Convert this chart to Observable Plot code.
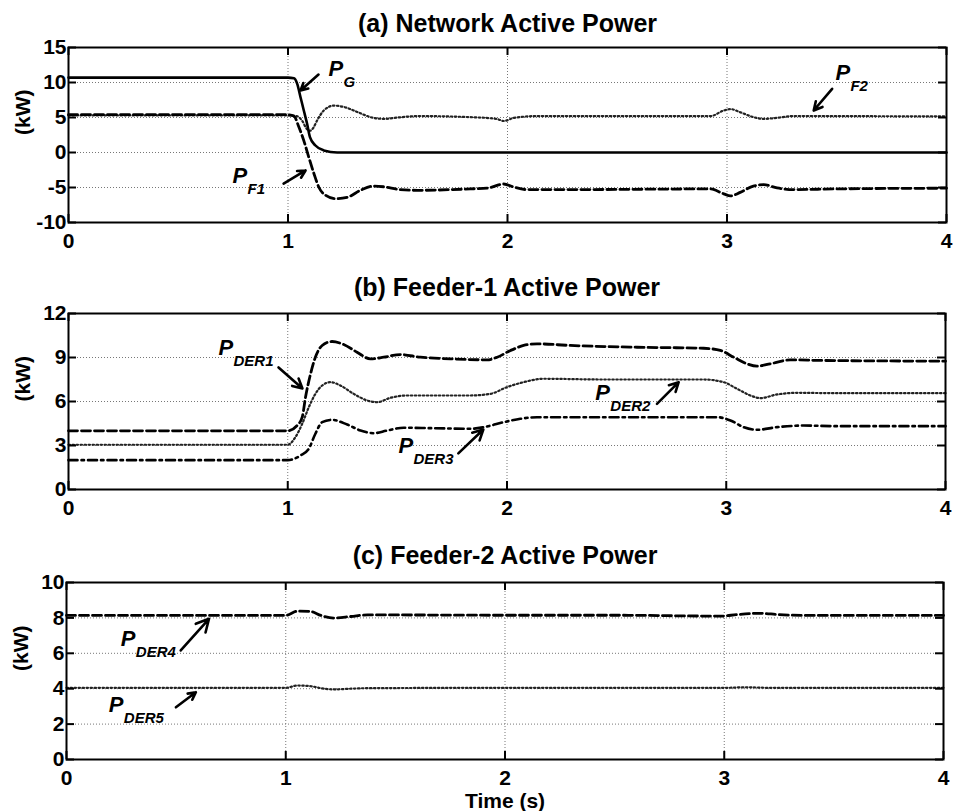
<!DOCTYPE html>
<html><head><meta charset="utf-8">
<script src="https://cdn.jsdelivr.net/npm/d3@7"></script>
<script src="https://cdn.jsdelivr.net/npm/@observablehq/plot@0.6"></script>
<style>body{margin:0;background:#fff;overflow:hidden}#c svg{display:block}</style>
</head><body><div id="c"></div>
<script>
// ---------- data ----------
const xTicks = [0, 1, 2, 3, 4];

// (a) Network Active Power
const yTicksA = [-10, -5, 0, 5, 10, 15];
const tG  = [0, 1.0, 1.027, 1.042, 1.057, 1.072, 1.087, 1.10, 1.125, 1.163, 1.224, 2, 3, 4];
const pG  = [10.7, 10.7, 10.6, 9.8, 7.9, 6.0, 4.1, 2.2, 1.0, 0.3, 0, 0, 0, 0];
const tF1 = [0, 1.0, 1.027, 1.05, 1.072, 1.095, 1.118, 1.141, 1.171, 1.217, 1.27, 1.33, 1.39, 1.437, 1.51, 1.59, 1.83, 1.907, 1.983, 2.03, 2.09, 2.29, 2.925, 2.985, 3.016, 3.06, 3.12, 3.167, 3.228, 3.30, 3.50, 4.0];
const pF1 = [5.4, 5.4, 5.2, 3.6, 1.7, -0.7, -3.0, -5.0, -6.1, -6.6, -6.4, -5.4, -4.8, -4.9, -5.3, -5.4, -5.2, -5.1, -4.5, -4.95, -5.3, -5.3, -5.2, -5.9, -6.2, -5.7, -4.8, -4.6, -5.05, -5.3, -5.2, -5.1];
const tF2 = [0, 1.0, 1.04, 1.065, 1.085, 1.10, 1.115, 1.133, 1.163, 1.209, 1.255, 1.315, 1.376, 1.437, 1.5, 1.6, 1.83, 1.95, 1.983, 2.03, 2.135, 2.925, 2.985, 3.016, 3.06, 3.12, 3.167, 3.228, 3.30, 4.0];
const pF2 = [5.3, 5.3, 5.2, 4.5, 3.4, 3.1, 3.5, 4.6, 6.0, 6.7, 6.5, 5.8, 5.05, 4.8, 5.0, 5.2, 5.05, 4.8, 4.5, 4.95, 5.2, 5.2, 6.0, 6.2, 5.75, 5.05, 4.8, 4.95, 5.2, 5.15];

// (b) Feeder-1 Active Power
const yTicksB = [0, 3, 6, 9, 12];
const tD1 = [0, 1.0, 1.043, 1.066, 1.081, 1.104, 1.126, 1.157, 1.202, 1.255, 1.316, 1.377, 1.438, 1.514, 1.605, 1.742, 1.909, 1.955, 2.016, 2.076, 2.137, 2.289, 2.593, 2.897, 2.973, 3.034, 3.095, 3.14, 3.201, 3.292, 3.43, 4.0];
const pD1 = [4.0, 4.0, 4.37, 4.93, 6.29, 7.88, 9.02, 9.82, 10.09, 9.89, 9.36, 8.91, 9.02, 9.2, 9.02, 8.91, 8.84, 9.02, 9.48, 9.82, 9.93, 9.82, 9.7, 9.63, 9.48, 9.02, 8.57, 8.41, 8.57, 8.84, 8.8, 8.75];
const tD2 = [0, 1.0, 1.035, 1.066, 1.096, 1.126, 1.157, 1.195, 1.24, 1.301, 1.362, 1.408, 1.468, 1.545, 1.666, 1.833, 1.924, 2.0, 2.076, 2.167, 2.441, 2.897, 2.988, 3.049, 3.11, 3.155, 3.232, 3.323, 3.505, 4.0];
const pD2 = [3.05, 3.05, 3.57, 4.48, 5.61, 6.52, 7.09, 7.32, 7.09, 6.52, 6.07, 5.95, 6.25, 6.41, 6.41, 6.41, 6.52, 6.98, 7.32, 7.55, 7.5, 7.5, 7.32, 6.87, 6.41, 6.23, 6.48, 6.59, 6.57, 6.57];
const tD3 = [0, 1.0, 1.058, 1.096, 1.126, 1.157, 1.202, 1.271, 1.332, 1.392, 1.453, 1.529, 1.666, 1.833, 1.894, 1.985, 2.061, 2.137, 2.593, 2.958, 3.019, 3.079, 3.14, 3.232, 3.353, 3.505, 4.0];
const pD3 = [2.0, 2.0, 2.32, 2.78, 3.8, 4.59, 4.75, 4.43, 4.02, 3.84, 4.02, 4.21, 4.18, 4.14, 4.25, 4.59, 4.82, 4.93, 4.93, 4.93, 4.71, 4.25, 4.07, 4.25, 4.36, 4.32, 4.32];

// (c) Feeder-2 Active Power
const yTicksC = [0, 2, 4, 6, 8, 10];
const tD4 = [0, 1.0, 1.054, 1.114, 1.16, 1.22, 1.297, 1.373, 2.0, 2.5, 2.984, 3.06, 3.167, 3.243, 3.37, 4.0];
const pD4 = [8.14, 8.14, 8.38, 8.36, 8.14, 7.99, 8.08, 8.17, 8.15, 8.15, 8.1, 8.19, 8.26, 8.19, 8.14, 8.14];
const tD5 = [0, 1.0, 1.054, 1.114, 1.16, 1.22, 1.297, 1.373, 2.0, 3.0, 3.1, 3.2, 4.0];
const pD5 = [4.05, 4.05, 4.18, 4.14, 4.03, 3.96, 4.0, 4.03, 4.05, 4.05, 4.08, 4.05, 4.05];

// annotation anchors (data coordinates)
const labelsA = [{t: 1.185, v: 11.0, sub: "G"}, {t: 0.747, v: -4.29, sub: "F1"}, {t: 3.494, v: 10.29, sub: "F2"}];
const arrowsA = [{t1: 1.139, v1: 11.14, t2: 1.057, v2: 8.86}, {t1: 0.98, v1: -4.43, t2: 1.08, v2: -2.57}, {t1: 3.479, v1: 9.1, t2: 3.395, v2: 6.0}];
const labelsB = [{t: 0.684, v: 9.14, sub: "DER1"}, {t: 2.403, v: 6.07, sub: "DER2"}, {t: 1.505, v: 2.46, sub: "DER3"}];
const arrowsB = [{t1: 0.958, v1: 8.32, t2: 1.067, v2: 6.89}, {t1: 2.684, v1: 5.84, t2: 2.783, v2: 7.32}, {t1: 1.778, v1: 2.46, t2: 1.892, v2: 4.09}];
const labelsC = [{t: 0.248, v: 6.44, sub: "DER4"}, {t: 0.193, v: 2.66, sub: "DER5"}];
const arrowsC = [{t1: 0.521, v1: 6.16, t2: 0.65, v2: 7.95}, {t1: 0.499, v1: 2.95, t2: 0.59, v2: 3.8}];

// ---------- styles ----------
const SOLID = {stroke: "black", strokeWidth: 2.6};
const DASH = {stroke: "black", strokeWidth: 2.8, strokeDasharray: "9,4"};
const DOT = {stroke: "#222", strokeWidth: 2.2, strokeDasharray: "1.5,2.5"};
const DASHDOT = {stroke: "black", strokeWidth: 2.6, strokeDasharray: "9,4,2.5,4"};
const FONT = "'Liberation Sans', Arial, Helvetica, sans-serif";

const rows = (t, v) => t.map((d, i) => ({t: d, v: v[i]}));

function panel({height, mT, mB, mL, mR, yDomain, yTicks, title, titleDy, series, labels, arrows, xlabel}) {
  const W = 953 - mL - mR, H = height - mT - mB;
  const marks = [
    Plot.gridX(xTicks.slice(1, -1), {stroke: "#777", strokeOpacity: 1, strokeDasharray: "1,2", strokeWidth: 1}),
    Plot.gridY(yTicks.slice(1, -1), {stroke: "#777", strokeOpacity: 1, strokeDasharray: "1,2", strokeWidth: 1}),
    ...series.map(([t, v, st]) => Plot.line(rows(t, v), {x: "t", y: "v", curve: "monotone-x", ...st})),
    Plot.tickY(yTicks, {y: d => d, insetRight: W - 8, stroke: "black", strokeWidth: 2}),
    Plot.tickY(yTicks, {y: d => d, insetLeft: W - 8, stroke: "black", strokeWidth: 2}),
    Plot.tickX(xTicks, {x: d => d, insetTop: H - 8, stroke: "black", strokeWidth: 2}),
    Plot.tickX(xTicks, {x: d => d, insetBottom: H - 8, stroke: "black", strokeWidth: 2}),
    Plot.frame({stroke: "black", strokeWidth: 2}),
    Plot.axisX(xTicks, {tickSize: 0, tickPadding: 11, fontSize: 21, fontWeight: "bold", fontFamily: FONT, tickFormat: d => String(d), label: null}),
    Plot.axisY(yTicks, {tickSize: 0, tickPadding: 2, fontSize: 21, fontWeight: "bold", fontFamily: FONT, tickFormat: d => String(d), label: null}),
    Plot.text([title], {text: d => d, frameAnchor: "top", dy: titleDy, lineAnchor: "bottom", fontSize: 25, fontWeight: "bold", fontFamily: FONT}),
    Plot.text(["(kW)"], {text: d => d, frameAnchor: "left", rotate: -90, dx: -45, fontSize: 21, fontWeight: "bold", fontFamily: FONT}),
    Plot.arrow(arrows, {x1: "t1", y1: "v1", x2: "t2", y2: "v2", stroke: "black", strokeWidth: 2.6, headLength: 10, headAngle: 55}),
    Plot.text(labels, {x: "t", y: "v", text: () => "P", textAnchor: "start", lineAnchor: "bottom", fontSize: 22, fontStyle: "italic", fontWeight: "bold", fontFamily: FONT}),
    Plot.text(labels, {x: "t", y: "v", text: "sub", dx: 15, dy: 11, textAnchor: "start", lineAnchor: "bottom", fontSize: 15, fontStyle: "italic", fontWeight: "bold", fontFamily: FONT})
  ];
  if (xlabel) marks.push(Plot.text([xlabel], {text: d => d, frameAnchor: "bottom", dy: 48, lineAnchor: "bottom", fontSize: 21, fontWeight: "bold", fontFamily: FONT}));
  return Plot.plot({
    width: 953, height,
    marginTop: mT, marginBottom: mB, marginLeft: mL, marginRight: mR,
    style: {fontFamily: FONT, fontSize: "21px", fontWeight: "bold", background: "white", color: "black"},
    x: {domain: [0, 4], axis: null},
    y: {domain: yDomain, axis: null},
    marks
  });
}

const c = document.getElementById("c");
c.append(panel({height: 265, mT: 47, mB: 43, mL: 68, mR: 7, yDomain: [-10, 15], yTicks: yTicksA,
  title: "(a) Network Active Power", titleDy: -16,
  series: [[tF2, pF2, DOT], [tF1, pF1, DASH], [tG, pG, SOLID]], labels: labelsA, arrows: arrowsA}));
c.append(panel({height: 270, mT: 48, mB: 46, mL: 68, mR: 8, yDomain: [0, 12], yTicks: yTicksB,
  title: "(b) Feeder-1 Active Power", titleDy: -18,
  series: [[tD2, pD2, DOT], [tD1, pD1, DASH], [tD3, pD3, DASHDOT]], labels: labelsB, arrows: arrowsB}));
c.append(panel({height: 276, mT: 47, mB: 52, mL: 66, mR: 10, yDomain: [0, 10], yTicks: yTicksC,
  title: "(c) Feeder-2 Active Power", titleDy: -19,
  series: [[tD5, pD5, DOT], [tD4, pD4, DASH]], labels: labelsC, arrows: arrowsC, xlabel: "Time (s)"}));
</script></body></html>
